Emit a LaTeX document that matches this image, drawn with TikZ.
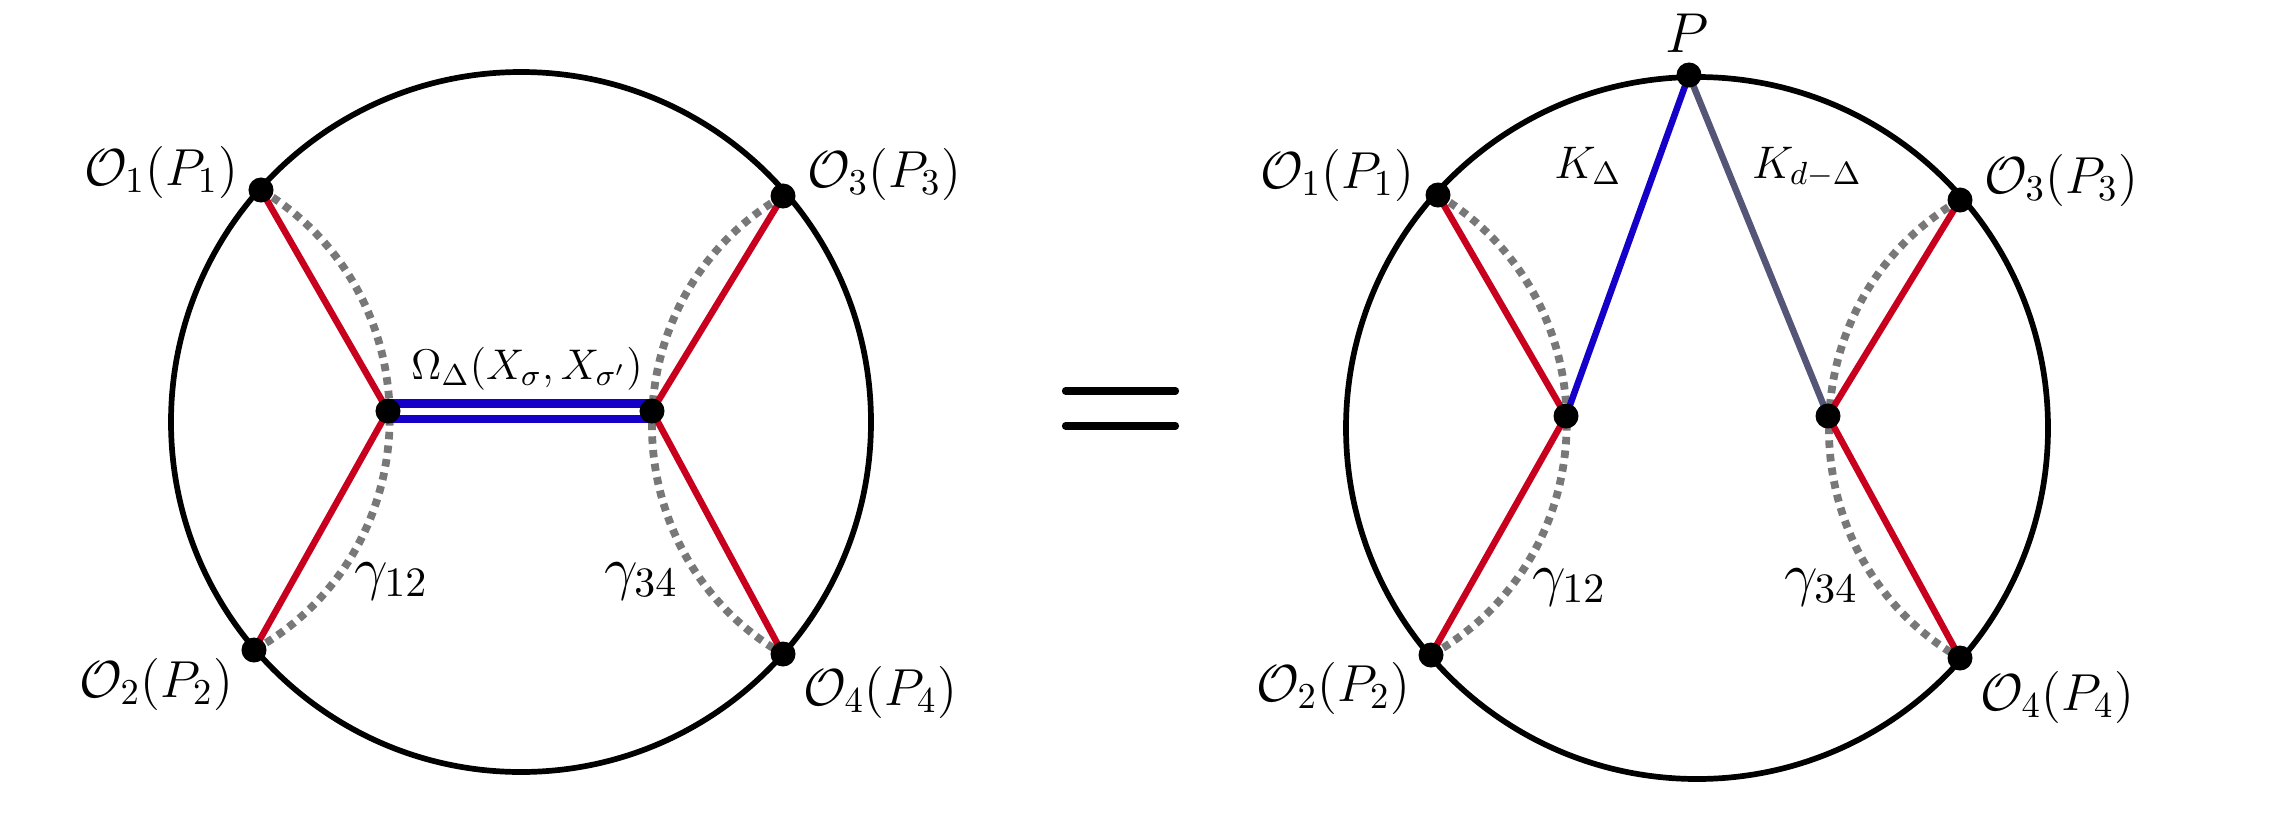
\RequirePackage{fix-cm}
\documentclass[tikz,border=0pt]{standalone}
\definecolor{myred}{RGB}{200,0,30}
\definecolor{myblue}{RGB}{20,0,200}
\definecolor{myslate}{RGB}{85,85,120}
\definecolor{mygray}{RGB}{120,120,120}
\begin{document}
\begin{tikzpicture}[x=0.01cm,y=0.01cm,
  bdry/.style={line width=0.057cm, draw=black},
  redline/.style={line width=0.065cm, draw=myred},
  geo/.style={line width=0.078cm, draw=mygray, dash pattern=on 0.075cm off 0.062cm},
  pt/.style={circle, fill=black, inner sep=0pt, minimum size=0.25cm},
  lab/.style={anchor=base, inner sep=0pt, font=\fontsize{14.8}{17}\selectfont},
  gam/.style={anchor=base, inner sep=0pt, font=\fontsize{17}{19}\selectfont},
  klab/.style={anchor=base, inner sep=0pt, font=\fontsize{13}{15}\selectfont},
  eqline/.style={line width=0.072cm, line cap=round},
]
\useasboundingbox (0,0) rectangle (2272,820);
% ---------------- left diagram ----------------
\coordinate (lC) at (521,398);
\coordinate (lO1) at (261,630);
\coordinate (lO2) at (254,170);
\coordinate (lO3) at (783,624);
\coordinate (lO4) at (783,166);
\coordinate (lA) at (388,409);
\coordinate (lB) at (652,409);
\draw[bdry] (lC) circle[radius=350];
\draw[geo] (lO1) to[bend left=60, looseness=1.13] (lO2);
\draw[geo] (lO3) to[bend right=60, looseness=1.13] (lO4);
\draw[redline] (lO1) -- (lA);
\draw[redline] (lO2) -- (lA);
\draw[redline] (lO3) -- (lB);
\draw[redline] (lO4) -- (lB);
\draw[draw=myblue, line width=0.08cm, double=white, double distance=0.07cm] (lA) -- (lB);
\foreach \p in {lO1,lO2,lO3,lO4,lA,lB} \node[pt] (\p dot) at (\p) {};
\node[lab] (lO1l) at (161,635) {$\mathcal{O}_1(P_1)$};
\node[lab] (lO3l) at (884,633) {$\mathcal{O}_3(P_3)$};
\node[lab] (lO2l) at (156,123) {$\mathcal{O}_2(P_2)$};
\node[lab] (lO4l) at (880,115) {$\mathcal{O}_4(P_4)$};
\node[anchor=base, inner sep=0pt, font=\fontsize{12.2}{14}\selectfont] (lom) at (527,441) {$\Omega_\Delta(X_\sigma,X_{\sigma'})$};
\node[gam] (lg12) at (391,232) {$\gamma_{12}$};
\node[gam] (lg34) at (641,232) {$\gamma_{34}$};
% ---------------- equals sign ----------------
\coordinate (e1a) at (1065.5,429);
\coordinate (e1b) at (1175.5,429);
\coordinate (e2a) at (1065.5,394);
\coordinate (e2b) at (1175.5,394);
\draw[eqline] (e1a) -- (e1b);
\draw[eqline] (e2a) -- (e2b);
% ---------------- right diagram ----------------
\coordinate (rC) at (1697,392);
\coordinate (rP) at (1689,745);
\coordinate (rO1) at (1438,625);
\coordinate (rO2) at (1431,165);
\coordinate (rO3) at (1960,620);
\coordinate (rO4) at (1960,162);
\coordinate (rA) at (1566,404);
\coordinate (rB) at (1828,404);
\draw[bdry] (rC) circle[radius=351];
\draw[geo] (rO1) to[bend left=60, looseness=1.13] (rO2);
\draw[geo] (rO3) to[bend right=60, looseness=1.13] (rO4);
\draw[redline] (rO1) -- (rA);
\draw[redline] (rO2) -- (rA);
\draw[redline] (rO3) -- (rB);
\draw[redline] (rO4) -- (rB);
\draw[line width=0.065cm, draw=myblue] (rP) -- (rA);
\draw[line width=0.065cm, draw=myslate] (rP) -- (rB);
\foreach \p in {rP,rO1,rO2,rO3,rO4,rA,rB} \node[pt] (\p dot) at (\p) {};
\node[anchor=base, inner sep=0pt, font=\fontsize{16}{18}\selectfont] (rPl) at (1687,768) {$P$};
\node[klab] (rK1) at (1588,642) {$K_\Delta$};
\node[klab] (rK2) at (1807,642) {$K_{d-\Delta}$};
\node[lab] (rO1l) at (1337,632) {$\mathcal{O}_1(P_1)$};
\node[lab] (rO3l) at (2061,627) {$\mathcal{O}_3(P_3)$};
\node[lab] (rO2l) at (1333,119) {$\mathcal{O}_2(P_2)$};
\node[lab] (rO4l) at (2057,110) {$\mathcal{O}_4(P_4)$};
\node[gam] (rg12) at (1569,226) {$\gamma_{12}$};
\node[gam] (rg34) at (1821,226) {$\gamma_{34}$};
\end{tikzpicture}
\end{document}
